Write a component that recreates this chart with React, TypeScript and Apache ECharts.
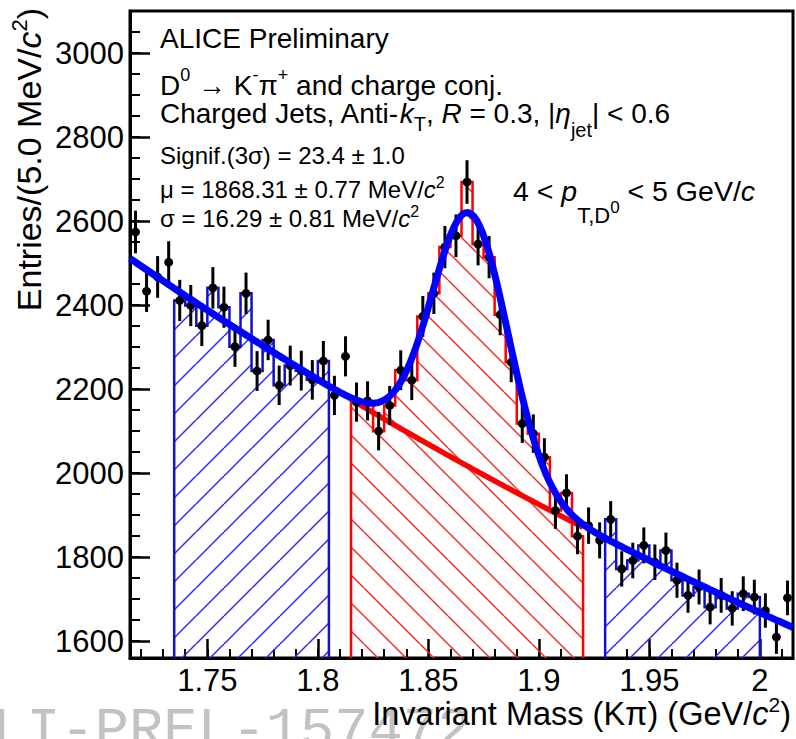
import React, { useEffect, useRef } from "react";
import * as echarts from "echarts";

// ---- Histogram data (5 MeV bins starting at 1.715 GeV/c^2) ----
const BIN_START = 1.715;
const BIN_WIDTH = 0.005;
const COUNTS = [
  2574, 2433, 2467, 2502, 2411, 2399, 2351, 2441, 2395, 2301,
  2428, 2243, 2317, 2209, 2256, 2244, 2222, 2267, 2185, 2278,
  2169, 2172, 2100, 2161, 2245, 2221, 2373, 2428, 2538, 2565,
  2693, 2545, 2514, 2377, 2264, 2118, 2094, 2038, 1911, 1953,
  1850, 1875, 1840, 1890, 1772, 1792, 1828, 1788, 1816, 1745,
  1709, 1729, 1681, 1709, 1678, 1713, 1705, 1673, 1610, 1703,
];

// ---- Regions ----
const SIDEBAND_LEFT = [1.735, 1.805];
const SIGNAL_REGION = [1.815, 1.92];
const SIDEBAND_RIGHT = [1.93, 2.0];

// ---- Axes ----
const X_MIN = 1.715;
const X_MAX = 2.015;
const Y_MIN = 1560;
const Y_MAX = 3100;
const X_MAJOR_TICKS = [1.75, 1.8, 1.85, 1.9, 1.95, 2.0];
const X_MINOR_TICKS = [
  1.72, 1.73, 1.74, 1.75, 1.76, 1.77, 1.78, 1.79, 1.8, 1.81,
  1.82, 1.83, 1.84, 1.85, 1.86, 1.87, 1.88, 1.89, 1.9, 1.91,
  1.92, 1.93, 1.94, 1.95, 1.96, 1.97, 1.98, 1.99, 2.0, 2.01,
];
const Y_MAJOR_TICKS = [1600, 1800, 2000, 2200, 2400, 2600, 2800, 3000];
const Y_MINOR_TICKS = [
  1600, 1650, 1700, 1750, 1800, 1850, 1900, 1950, 2000, 2050,
  2100, 2150, 2200, 2250, 2300, 2350, 2400, 2450, 2500, 2550,
  2600, 2650, 2700, 2750, 2800, 2850, 2900, 2950, 3000, 3050,
];

// ---- Fit parameters (Gaussian signal + exponential background) ----
const FIT_MU = 1.869;
const FIT_SIGMA = 0.0171;
const FIT_AMP = 605;
const BKG_NORM = 2511;
const BKG_SLOPE = 1.435;
const BKG_REF = 1.715;
const FIT_STEP = 0.0005;

const SANS = '"Liberation Sans", Arial, Helvetica, sans-serif';
const f = (size: number, italic = false) =>
  `${italic ? "italic " : ""}${size}px ${SANS}`;

function bkg(x: number) {
  return BKG_NORM * Math.exp(-BKG_SLOPE * (x - BKG_REF));
}
function total(x: number) {
  const z = (x - FIT_MU) / FIT_SIGMA;
  return bkg(x) + FIT_AMP * Math.exp(-0.5 * z * z);
}
function sample(lo: number, hi: number, fn: (x: number) => number) {
  const pts: number[][] = [];
  const n = Math.round((hi - lo) / FIT_STEP);
  for (let k = 0; k <= n; k++) {
    const x = lo + k * FIT_STEP;
    pts.push([x, fn(x)]);
  }
  return pts;
}

function histOutline(range: number[]) {
  const [lo, hi] = range;
  const i0 = Math.round((lo - BIN_START) / BIN_WIDTH);
  const i1 = Math.round((hi - BIN_START) / BIN_WIDTH);
  const pts: number[][] = [[lo, Y_MIN]];
  for (let i = i0; i < i1; i++) {
    const a = BIN_START + i * BIN_WIDTH;
    pts.push([a, COUNTS[i]], [a + BIN_WIDTH, COUNTS[i]]);
  }
  pts.push([hi, Y_MIN]);
  return pts;
}

function hatch(color: string, dir: number, offset: number) {
  const s = 28;
  const c = document.createElement("canvas");
  c.width = s;
  c.height = s;
  const g = c.getContext("2d")!;
  g.strokeStyle = color;
  g.lineWidth = 1.5;
  for (const k of [-s, 0, s]) {
    g.beginPath();
    if (dir > 0) {
      g.moveTo(k, s);
      g.lineTo(k + s, 0);
    } else {
      g.moveTo(k, 0);
      g.lineTo(k + s, s);
    }
    g.stroke();
  }
  return {
    image: c,
    repeat: "repeat",
    imageWidth: s,
    imageHeight: s,
    x: offset,
    y: 0,
  };
}

const richBig = (size: number) => ({
  n: { font: f(size), lineHeight: size },
  i: { font: f(size, true), lineHeight: size },
  sup: { font: f(Math.round(size * 0.64)), lineHeight: Math.round(size * 0.64), padding: [0, 0, 20, 0] },
  sub: { font: f(Math.round(size * 0.7)), lineHeight: Math.round(size * 0.7), padding: [21, 0, 0, 0] },
  subj: { font: f(Math.round(size * 0.7)), lineHeight: Math.round(size * 0.7), padding: [34, 0, 0, 0] },
  subp: { font: f(Math.round(size * 0.78)), lineHeight: Math.round(size * 0.78), padding: [48, 0, 0, 0] },
  subsup: { font: f(Math.round(size * 0.58)), lineHeight: Math.round(size * 0.58), padding: [32, 0, 0, 0] },
});

const richSmall = (size: number) => ({
  n: { font: f(size), lineHeight: size },
  i: { font: f(size, true), lineHeight: size },
  sup: { font: f(Math.round(size * 0.65)), lineHeight: Math.round(size * 0.65), padding: [0, 0, 14, 0] },
});

export default function App() {
  const ref = useRef<HTMLDivElement>(null);

  useEffect(() => {
    document.body.style.margin = "0";
    const chart = echarts.init(ref.current!, undefined, { renderer: "svg" });

    const points = COUNTS.map((c, i) => [
      BIN_START + (i + 0.5) * BIN_WIDTH,
      c,
      Math.sqrt(c),
    ]);

    const blueHatch = hatch("#2a2aff", 1, -2);
    const redHatch = hatch("#ff2a2a", -1, 14);

    const histSeries = (range: number[], line: string, fill: any) => ({
      type: "line",
      data: histOutline(range),
      showSymbol: false,
      symbol: "none",
      silent: true,
      z: 1,
      lineStyle: { color: line, width: 2.5, join: "miter" },
      areaStyle: { origin: "start", color: fill, opacity: 1 },
    });

    const axisLineStyle = { color: "#000", width: 3 };

    const option: any = {
      animation: false,
      backgroundColor: "#ffffff",
      grid: {
        left: 130,
        right: 3,
        top: 11,
        bottom: 81,
        show: true,
        borderColor: "#000",
        borderWidth: 3,
        containLabel: false,
        outerBoundsMode: "none",
      },
      xAxis: [
        {
          type: "value",
          position: "bottom",
          min: X_MIN,
          max: X_MAX,
          axisLine: { show: true, onZero: false, lineStyle: axisLineStyle },
          axisTick: {
            show: true,
            inside: true,
            length: 19,
            customValues: X_MAJOR_TICKS,
            lineStyle: { color: "#000", width: 2.5 },
          },
          axisLabel: {
            show: true,
            customValues: X_MAJOR_TICKS,
            color: "#000",
            fontSize: 31,
            fontFamily: SANS,
            lineHeight: 31,
            margin: 7,
            formatter: (v: number) => String(Math.round(v * 1000) / 1000),
          },
          splitLine: { show: false },
        },
        {
          type: "value",
          position: "bottom",
          min: X_MIN,
          max: X_MAX,
          axisLine: { show: false },
          axisTick: {
            show: true,
            inside: true,
            length: 9,
            customValues: X_MINOR_TICKS,
            lineStyle: { color: "#000", width: 2 },
          },
          axisLabel: { show: false },
          splitLine: { show: false },
        },
      ],
      yAxis: [
        {
          type: "value",
          position: "left",
          min: Y_MIN,
          max: Y_MAX,
          axisLine: { show: true, onZero: false, lineStyle: axisLineStyle },
          axisTick: {
            show: true,
            inside: true,
            length: 20,
            customValues: Y_MAJOR_TICKS,
            lineStyle: { color: "#000", width: 2.5 },
          },
          axisLabel: {
            show: true,
            customValues: Y_MAJOR_TICKS,
            color: "#000",
            fontSize: 31,
            fontFamily: SANS,
            margin: 6,
            formatter: (v: number) => String(Math.round(v)),
          },
          splitLine: { show: false },
        },
        {
          type: "value",
          position: "left",
          min: Y_MIN,
          max: Y_MAX,
          axisLine: { show: false },
          axisTick: {
            show: true,
            inside: true,
            length: 10,
            customValues: Y_MINOR_TICKS,
            lineStyle: { color: "#000", width: 2 },
          },
          axisLabel: { show: false },
          splitLine: { show: false },
        },
      ],
      series: [
        histSeries(SIDEBAND_LEFT, "#1212c4", blueHatch),
        histSeries(SIGNAL_REGION, "#ff0000", redHatch),
        histSeries(SIDEBAND_RIGHT, "#1212c4", blueHatch),
        {
          type: "line",
          data: sample(SIGNAL_REGION[0], SIGNAL_REGION[1], bkg),
          showSymbol: false,
          symbol: "none",
          silent: true,
          z: 2,
          lineStyle: { color: "#ff0000", width: 5.5 },
        },
        {
          type: "custom",
          data: points,
          z: 3,
          silent: true,
          renderItem: (_params: any, api: any) => {
            const x = api.value(0);
            const y = api.value(1);
            const e = api.value(2);
            const p = api.coord([x, y]);
            const t = api.coord([x, y + e]);
            const b = api.coord([x, y - e]);
            return {
              type: "group",
              children: [
                {
                  type: "line",
                  shape: { x1: p[0], y1: t[1], x2: p[0], y2: b[1] },
                  style: { stroke: "#000", lineWidth: 3 },
                },
                {
                  type: "circle",
                  shape: { cx: p[0], cy: p[1], r: 4.4 },
                  style: { fill: "#000" },
                },
              ],
            };
          },
        },
        {
          type: "line",
          data: sample(X_MIN, X_MAX, total),
          showSymbol: false,
          symbol: "none",
          silent: true,
          z: 4,
          lineStyle: { color: "#0000ff", width: 7 },
        },
      ],
      graphic: {
        elements: [
          {
            type: "text",
            x: -42,
            y: 732,
            z: 1,
            silent: true,
            style: {
              text: "ALI-PREL-157472",
              font: '57px "Liberation Mono", "DejaVu Sans Mono", monospace',
              fill: "#c2c2c2",
              align: "left",
              verticalAlign: "middle",
            },
          },
          {
            type: "text",
            x: 160,
            y: 38,
            z: 10,
            style: {
              text: "ALICE Preliminary",
              font: f(28),
              fill: "#000",
              align: "left",
              verticalAlign: "middle",
            },
          },
          {
            type: "text",
            x: 160,
            y: 85,
            z: 10,
            style: {
              text: "{n|D}{sup|0}{n| → K}{sup|-}{n|π}{sup|+}{n| and charge conj.}",
              rich: richBig(28),
              fill: "#000",
              align: "left",
              verticalAlign: "middle",
            },
          },
          {
            type: "text",
            x: 160,
            y: 113,
            z: 10,
            style: {
              text:
                "{n|Charged Jets, Anti-}{i|k}{sub|T}{n|, }{i|R}{n| = 0.3, |}{i|η}{subj|jet}{n|| < 0.6}",
              rich: richBig(28),
              fill: "#000",
              align: "left",
              verticalAlign: "middle",
            },
          },
          {
            type: "text",
            x: 160,
            y: 155,
            z: 10,
            style: {
              text: "{n|Signif.(3σ) = 23.4 ± 1.0}",
              rich: richSmall(24),
              fill: "#000",
              align: "left",
              verticalAlign: "middle",
            },
          },
          {
            type: "text",
            x: 160,
            y: 189,
            z: 10,
            style: {
              text: "{n|μ = 1868.31 ± 0.77 MeV/}{i|c}{sup|2}",
              rich: richSmall(24),
              fill: "#000",
              align: "left",
              verticalAlign: "middle",
            },
          },
          {
            type: "text",
            x: 160,
            y: 218,
            z: 10,
            style: {
              text: "{n|σ = 16.29 ± 0.81 MeV/}{i|c}{sup|2}",
              rich: richSmall(24),
              fill: "#000",
              align: "left",
              verticalAlign: "middle",
            },
          },
          {
            type: "text",
            x: 513,
            y: 191,
            z: 10,
            style: {
              text: "{n|4 < }{i|p}{subp|T,D}{subsup|0}{n| < 5 GeV/}{i|c}",
              rich: richBig(28.5),
              fill: "#000",
              align: "left",
              verticalAlign: "middle",
            },
          },
          {
            type: "text",
            x: 29,
            y: 8,
            z: 10,
            rotation: Math.PI / 2,
            style: {
              text: "{n|Entries/(5.0 MeV/}{i|c}{sup|2}{n|)}",
              rich: richBig(34),
              fill: "#000",
              align: "right",
              verticalAlign: "middle",
            },
          },
          {
            type: "text",
            x: 791,
            y: 714,
            z: 10,
            style: {
              text: "{n|Invariant Mass (Kπ) (GeV/}{i|c}{sup|2}{n|)}",
              rich: richBig(32.5),
              fill: "#000",
              align: "right",
              verticalAlign: "middle",
            },
          },
        ],
      },
    };

    chart.setOption(option);
    return () => {
      chart.dispose();
    };
  }, []);

  return <div ref={ref} style={{ width: 796, height: 739 }} />;
}
